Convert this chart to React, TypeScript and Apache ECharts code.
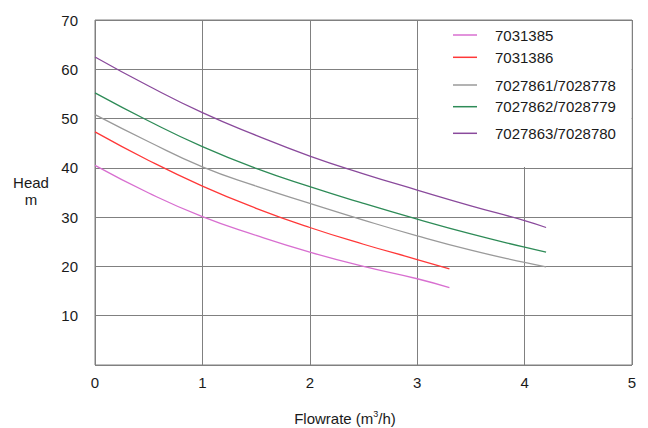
import React, { useEffect, useRef } from "react";
import * as echarts from "echarts";

const seriesNames = [
  "7031385",
  "7031386",
  "7027861/7028778",
  "7027862/7028779",
  "7027863/7028780",
];

const pink: [number, number][] = [
  [0, 40.5], [0.5, 34.9], [1, 30.1], [1.5, 26.3], [2, 22.9], [2.5, 20.0], [3, 17.5], [3.3, 15.7],
];
const red: [number, number][] = [
  [0, 47.3], [0.5, 41.5], [1, 36.3], [1.5, 31.8], [2, 27.9], [2.5, 24.5], [3, 21.4], [3.3, 19.5],
];
const gray: [number, number][] = [
  [0, 50.8], [0.5, 45.3], [1, 40.2], [1.5, 36.3], [2, 32.8], [2.5, 29.4], [3, 26.2], [3.5, 23.3], [4, 20.8], [4.2, 19.9],
];
const green: [number, number][] = [
  [0, 55.2], [0.5, 49.5], [1, 44.3], [1.5, 39.9], [2, 36.2], [2.5, 32.8], [3, 29.6], [3.5, 26.6], [4, 23.9], [4.2, 22.9],
];
const purple: [number, number][] = [
  [0, 62.5], [0.5, 56.6], [1, 51.2], [1.5, 46.6], [2, 42.4], [2.5, 38.8], [3, 35.5], [3.5, 32.3], [4, 29.3], [4.2, 27.9],
];

const seriesData = [pink, red, gray, green, purple];
const colors = ["#d86fd0", "#ff3838", "#9a9a9a", "#2e8b57", "#8a4a9c"];
const legendCenters = [35, 57.3, 85, 106.7, 133.3];

const xMin = 0, xMax = 5, xInterval = 1;
const yMin = 0, yMax = 70, yInterval = 10;

const FONT = "'Liberation Sans', Arial, sans-serif";

export default function App() {
  const ref = useRef<HTMLDivElement>(null);
  useEffect(() => {
    if (!ref.current) return;
    const chart = echarts.init(ref.current, null, { renderer: "svg" });
    chart.setOption({
      animation: false,
      backgroundColor: "#fff",
      textStyle: { fontFamily: FONT },
      grid: {
        left: 95,
        right: 16,
        top: 20,
        bottom: 63,
        show: true,
        borderColor: "#808080",
        borderWidth: 1,
        backgroundColor: "transparent",
      },
      xAxis: {
        type: "value",
        min: xMin,
        max: xMax,
        interval: xInterval,
        axisLine: { show: false },
        axisTick: { show: false },
        splitLine: { show: true, lineStyle: { color: "#808080", width: 1 } },
        axisLabel: { color: "#1a1a1a", fontSize: 15, margin: 10, fontFamily: FONT },
      },
      yAxis: {
        type: "value",
        min: yMin,
        max: yMax,
        interval: yInterval,
        axisLine: { show: false },
        axisTick: { show: false },
        splitLine: { show: true, lineStyle: { color: "#808080", width: 1 } },
        axisLabel: {
          color: "#1a1a1a",
          fontSize: 15,
          margin: 17,
          fontFamily: FONT,
          formatter: (v: number) => (v === 0 ? "" : String(v)),
        },
      },
      legend: seriesNames.map((n, i) => ({
        data: [n],
        left: 453,
        top: legendCenters[i] - 8,
        padding: 0,
        icon: "rect",
        itemWidth: 24,
        itemHeight: 1.5,
        textStyle: {
          color: "#1a1a1a",
          fontSize: 15,
          lineHeight: 16,
          fontFamily: FONT,
          padding: [0, 0, 0, 13],
        },
      })),
      graphic: [
        {
          type: "rect",
          z: 1,
          shape: { x: 418.5, y: 21, width: 213, height: 146 },
          style: { fill: "#fff" },
          silent: true,
        },
        {
          type: "text",
          x: 31,
          y: 174,
          style: {
            text: "Head\nm",
            fill: "#1a1a1a",
            font: `15px ${FONT}`,
            align: "center",
            textAlign: "center",
            lineHeight: 17,
          },
        },
        {
          type: "text",
          x: 345,
          y: 418,
          style: {
            text: "Flowrate (m{sup|3}/h)",
            fill: "#1a1a1a",
            font: `15px ${FONT}`,
            align: "center",
            textAlign: "center",
            verticalAlign: "middle",
            textVerticalAlign: "middle",
            rich: {
              sup: { fontSize: 9, fontFamily: FONT, padding: [0, 0, 9, 0], fill: "#1a1a1a" },
            },
          },
        },
      ],
      series: seriesNames.map((n, i) => ({
        name: n,
        type: "line",
        data: seriesData[i],
        smooth: true,
        showSymbol: false,
        symbol: "none",
        z: 3,
        lineStyle: { color: colors[i], width: 1.3 },
        itemStyle: { color: colors[i] },
      })),
    });
    return () => chart.dispose();
  }, []);
  return (
    <div
      ref={ref}
      style={{ position: "fixed", left: 0, top: 0, width: 648, height: 428 }}
    />
  );
}
